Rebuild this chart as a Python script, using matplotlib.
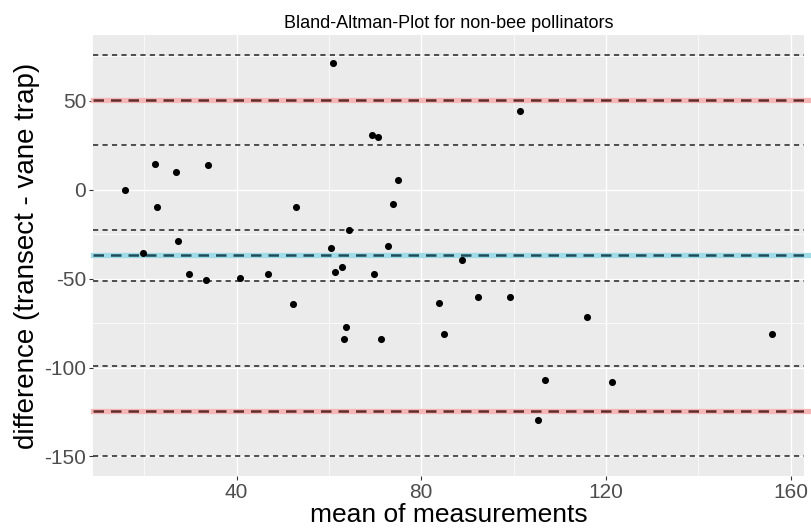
import numpy as np
import matplotlib
matplotlib.use("Agg")
import matplotlib.pyplot as plt

# mean and difference for each site pair
mean_vals = [15.8, 19.8, 22.3, 22.8, 26.8, 27.3, 29.8, 33.3, 33.8, 40.8,
             46.8, 52.8, 52.3, 60.9, 60.4, 61.4, 62.8, 64.3, 63.8, 63.3,
             69.3, 70.6, 69.7, 74.9, 73.8, 72.8, 71.3, 101.4, 88.9, 83.8,
             92.3, 99.3, 84.9, 115.8, 155.9, 106.8, 121.3, 105.3]
diff_vals = [0.0, -35.7, 14.7, -10.0, 9.7, -28.9, -47.6, -50.7, 13.8, -49.5,
             -47.6, -10.0, -64.5, 71.1, -32.9, -46.5, -43.7, -22.9, -77.2, -84.0,
             30.6, 29.5, -47.6, 5.7, -8.1, -31.9, -84.0, 44.3, -39.8, -63.6,
             -60.6, -60.6, -81.3, -71.5, -81.3, -107.0, -108.0, -129.7]

# bias, limits of agreement and their confidence bounds
bias = -37.0
loa_upper = 50.4
loa_lower = -124.4
ci_lines = [75.7, 25.1, -22.4, -51.6, -99.1, -149.7]

plt.rcParams["font.family"] = ["Liberation Sans", "DejaVu Sans"]
plt.rcParams["axes.unicode_minus"] = False

fig = plt.figure(figsize=(8.12, 5.30), dpi=100)
ax = fig.add_axes([93 / 812, 1 - 476 / 530, (804 - 93) / 812, (476 - 35) / 530])

ax.set_facecolor("#EBEBEB")
for s in ax.spines.values():
    s.set_visible(False)

ax.set_xlim(8.9, 162.9)
ax.set_ylim(-161, 87)
ax.set_xticks([40, 80, 120, 160])
ax.set_yticks([-150, -100, -50, 0, 50])
ax.set_xticks([20, 60, 100, 140], minor=True)
ax.set_yticks([-125, -75, -25, 25, 75], minor=True)
ax.grid(which="major", color="white", linewidth=1.0)
ax.grid(which="minor", color="white", linewidth=0.5)
ax.set_axisbelow(True)
ax.tick_params(which="major", length=2.8, width=0.8, color="#333333",
               labelsize=15, labelcolor="#4D4D4D", pad=2)
ax.tick_params(which="minor", length=0)

# confidence interval lines
for y in ci_lines:
    ax.axhline(y, color="#222222", linewidth=1.1, dashes=(3.4, 2.8), zorder=2)

# limits of agreement (red) and bias (blue)
for y, band, dash in [(loa_upper, "#F4B6B6", "#5E2C2C"),
                      (loa_lower, "#F4B6B6", "#5E2C2C"),
                      (bias, "#9FDCE8", "#1E4C58")]:
    ax.axhline(y, xmin=0, xmax=1.011, color=band, linewidth=3.8,
               clip_on=False, zorder=2)
    ax.axhline(y, color=dash, linewidth=1.8, dashes=(4.2, 2.8), zorder=3)

ax.scatter(mean_vals, diff_vals, s=26, color="black", linewidths=0, zorder=4)

ax.set_title("Bland-Altman-Plot for non-bee pollinators", fontsize=13, pad=5)
ax.set_xlabel("mean of measurements", fontsize=19, labelpad=1)
ax.set_ylabel("difference (transect - vane trap)", fontsize=20, labelpad=3)

fig.savefig("out.png", dpi=100)
